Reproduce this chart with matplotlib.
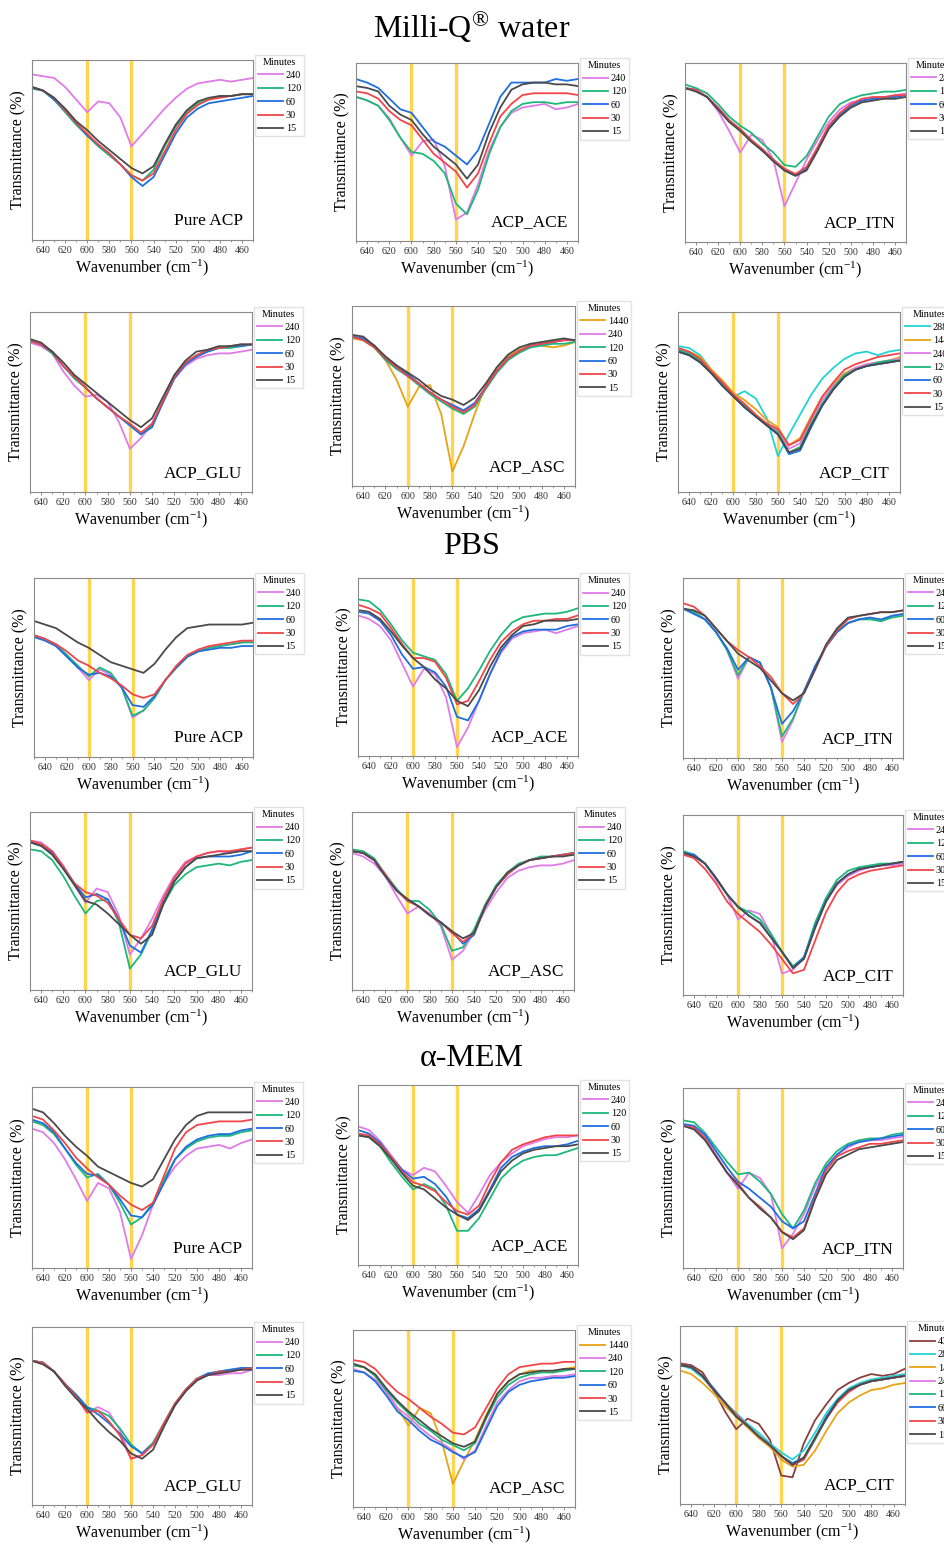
import matplotlib
matplotlib.use("Agg")
import matplotlib.pyplot as plt

plt.rcParams['font.family'] = ['Liberation Serif', 'DejaVu Serif']
plt.rcParams['mathtext.fontset'] = 'stix'

# wavenumber grid (cm-1) shared by all spectra
wavenumber = [650, 640, 630, 620, 610, 600, 590, 580, 570, 560, 550,
              540, 530, 520, 510, 500, 490, 480, 470, 460, 450]

# ---- Milli-Q water ----
mq_pure = {
    240: [92, 91, 90, 85, 78, 71, 77, 76, 68, 52, 59, 66, 73, 79, 84, 87, 88, 89, 88, 89, 90],
    120: [84, 83, 78, 71, 64, 58, 52, 47, 42, 36, 33, 39, 52, 63, 71, 76, 78, 80, 80, 81, 81],
    60: [85, 83, 78, 72, 65, 58, 53, 48, 42, 35, 30, 35, 47, 59, 68, 73, 76, 77, 78, 79, 80],
    30: [85, 83, 79, 72, 65, 59, 53, 48, 42, 36, 33, 37, 49, 61, 70, 75, 78, 79, 80, 81, 81],
    15: [85, 83, 79, 73, 66, 61, 55, 50, 45, 40, 37, 41, 53, 64, 72, 77, 79, 80, 80, 81, 81],
}
mq_ace = {
    240: [81, 79, 76, 69, 58, 48, 56, 57, 42, 12, 16, 32, 51, 64, 72, 75, 76, 77, 74, 75, 77],
    120: [81, 79, 76, 68, 58, 50, 49, 45, 38, 21, 15, 29, 49, 64, 73, 77, 78, 78, 77, 78, 78],
    60: [91, 89, 86, 80, 74, 72, 64, 56, 53, 48, 43, 51, 66, 81, 89, 89, 89, 89, 91, 90, 91],
    30: [84, 83, 80, 73, 68, 65, 57, 49, 44, 39, 30, 38, 55, 70, 77, 82, 83, 83, 83, 83, 82],
    15: [87, 86, 84, 76, 71, 68, 60, 53, 48, 43, 35, 43, 61, 75, 85, 88, 89, 89, 88, 88, 87],
}
mq_itn = {
    240: [86, 85, 81, 73, 62, 50, 60, 57, 46, 20, 33, 46, 57, 67, 74, 78, 79, 80, 80, 82, 83],
    120: [88, 86, 83, 77, 70, 65, 61, 55, 50, 43, 42, 48, 59, 70, 77, 80, 82, 83, 84, 84, 85],
    60: [86, 85, 81, 75, 68, 63, 57, 51, 46, 40, 37, 41, 52, 64, 71, 76, 79, 80, 81, 81, 82],
    30: [86, 85, 81, 75, 68, 63, 57, 52, 46, 41, 38, 42, 53, 65, 72, 77, 80, 81, 81, 82, 82],
    15: [86, 84, 81, 74, 67, 62, 56, 51, 45, 40, 37, 40, 51, 63, 70, 75, 78, 79, 80, 80, 81],
}
mq_glu = {
    240: [83, 81, 77, 67, 59, 53, 54, 50, 39, 24, 30, 38, 50, 63, 70, 74, 76, 77, 77, 78, 79],
    120: [84, 82, 77, 70, 63, 58, 52, 47, 42, 37, 32, 37, 51, 64, 71, 76, 78, 80, 80, 81, 82],
    60: [84, 82, 78, 70, 64, 58, 52, 47, 42, 37, 32, 36, 50, 63, 71, 75, 78, 80, 81, 81, 82],
    30: [84, 82, 78, 70, 64, 58, 52, 47, 42, 38, 33, 38, 51, 64, 72, 76, 79, 80, 81, 82, 82],
    15: [85, 83, 78, 72, 65, 60, 55, 50, 45, 40, 36, 41, 53, 65, 73, 78, 79, 81, 81, 82, 82],
}
mq_asc = {
    1440: [82, 81, 77, 70, 59, 44, 55, 56, 40, 8, 22, 40, 56, 66, 72, 76, 78, 78, 77, 78, 80],
    240: [83, 82, 78, 71, 66, 62, 57, 52, 48, 45, 42, 46, 55, 64, 70, 75, 77, 79, 80, 81, 81],
    120: [83, 81, 77, 70, 65, 61, 56, 51, 47, 43, 40, 44, 54, 63, 70, 74, 77, 78, 79, 79, 80],
    60: [83, 82, 78, 71, 66, 62, 57, 52, 48, 45, 42, 46, 55, 64, 71, 75, 78, 79, 80, 81, 81],
    30: [83, 81, 77, 71, 66, 61, 57, 52, 48, 44, 41, 45, 55, 64, 71, 75, 78, 79, 80, 81, 81],
    15: [84, 83, 78, 72, 67, 63, 59, 54, 50, 48, 45, 49, 57, 66, 73, 77, 79, 80, 81, 82, 81],
}
mq_cit = {
    2880: [81, 80, 76, 68, 60, 53, 56, 52, 41, 20, 32, 43, 54, 63, 69, 74, 77, 78, 76, 78, 79],
    1440: [80, 78, 75, 68, 62, 55, 51, 46, 40, 36, 26, 30, 42, 53, 60, 66, 69, 71, 72, 73, 75],
    240: [79, 77, 73, 66, 60, 54, 48, 42, 38, 34, 24, 27, 40, 51, 59, 65, 69, 71, 72, 73, 74],
    120: [79, 77, 73, 66, 60, 53, 48, 42, 37, 33, 22, 25, 38, 49, 58, 65, 68, 70, 72, 73, 73],
    60: [78, 76, 72, 66, 59, 53, 47, 42, 37, 32, 21, 23, 36, 48, 57, 64, 68, 70, 71, 72, 73],
    30: [80, 78, 74, 67, 61, 54, 49, 43, 38, 35, 26, 29, 41, 53, 61, 68, 71, 73, 75, 76, 77],
    15: [78, 76, 72, 66, 59, 53, 47, 42, 37, 32, 22, 24, 37, 48, 57, 64, 68, 70, 71, 72, 73],
}

# ---- PBS ----
pbs_pure = {
    240: [68, 66, 62, 57, 50, 43, 49, 46, 39, 22, 26, 33, 43, 50, 56, 60, 61, 62, 63, 64, 65],
    120: [68, 66, 63, 57, 51, 45, 50, 47, 39, 23, 26, 33, 43, 50, 56, 59, 61, 62, 63, 64, 64],
    60: [67, 65, 62, 56, 50, 46, 47, 45, 39, 29, 28, 34, 43, 50, 56, 59, 60, 61, 61, 62, 62],
    30: [68, 66, 63, 59, 54, 51, 47, 44, 40, 35, 33, 35, 43, 51, 57, 60, 62, 63, 64, 65, 65],
    15: [76, 74, 72, 68, 64, 61, 57, 53, 51, 49, 47, 52, 60, 67, 72, 73, 74, 74, 74, 74, 75],
}
pbs_ace = {
    240: [79, 77, 73, 65, 52, 39, 49, 46, 33, 5, 16, 31, 46, 58, 66, 69, 70, 71, 69, 71, 73],
    120: [88, 87, 82, 74, 65, 58, 56, 54, 46, 31, 38, 48, 59, 68, 75, 78, 79, 80, 80, 81, 83],
    60: [81, 80, 76, 68, 57, 49, 50, 47, 39, 22, 20, 31, 46, 59, 67, 70, 71, 71, 71, 73, 74],
    30: [85, 83, 80, 72, 63, 55, 55, 53, 44, 29, 31, 42, 54, 64, 70, 74, 76, 76, 77, 77, 79],
    15: [82, 81, 77, 70, 62, 55, 50, 43, 38, 31, 28, 37, 50, 61, 68, 73, 74, 76, 76, 76, 77],
}
pbs_itn = {
    240: [83, 81, 77, 70, 60, 44, 56, 53, 39, 9, 21, 37, 50, 62, 70, 75, 77, 78, 76, 79, 80],
    120: [83, 81, 77, 70, 60, 46, 56, 53, 39, 12, 22, 37, 50, 62, 70, 75, 77, 77, 76, 78, 79],
    60: [83, 80, 77, 70, 61, 49, 56, 53, 39, 19, 26, 37, 51, 62, 70, 75, 77, 78, 77, 79, 80],
    30: [86, 84, 79, 72, 65, 60, 56, 51, 45, 36, 30, 36, 49, 62, 71, 77, 79, 80, 81, 81, 82],
    15: [83, 82, 79, 72, 65, 58, 54, 50, 43, 36, 32, 36, 49, 63, 72, 78, 79, 80, 81, 81, 82],
}
pbs_glu = {
    240: [84, 83, 78, 70, 59, 49, 57, 55, 42, 20, 29, 40, 53, 64, 72, 75, 77, 78, 77, 79, 80],
    120: [79, 78, 73, 64, 53, 43, 50, 51, 38, 12, 20, 33, 48, 59, 65, 69, 70, 71, 70, 72, 73],
    60: [83, 81, 77, 69, 60, 52, 54, 51, 40, 25, 21, 34, 49, 61, 69, 74, 75, 75, 75, 76, 78],
    30: [84, 82, 78, 69, 60, 55, 53, 49, 40, 31, 29, 36, 51, 63, 71, 75, 77, 78, 78, 79, 80],
    15: [83, 81, 76, 68, 59, 50, 48, 43, 37, 31, 26, 31, 48, 61, 69, 74, 75, 76, 77, 78, 78],
}
pbs_asc = {
    240: [77, 75, 71, 64, 53, 43, 47, 43, 36, 17, 22, 33, 45, 55, 63, 67, 69, 70, 70, 71, 73],
    120: [79, 78, 74, 65, 57, 50, 50, 45, 37, 22, 24, 34, 48, 59, 66, 71, 73, 75, 75, 76, 77],
    60: [78, 77, 73, 64, 56, 51, 47, 42, 38, 33, 26, 31, 47, 58, 65, 70, 73, 74, 75, 76, 77],
    30: [78, 77, 73, 65, 56, 50, 47, 42, 38, 32, 27, 32, 47, 58, 65, 70, 73, 74, 75, 76, 77],
    15: [78, 77, 73, 64, 56, 51, 47, 42, 38, 33, 29, 32, 47, 58, 66, 70, 73, 74, 75, 75, 76],
}
pbs_cit = {
    240: [79, 77, 73, 64, 56, 42, 47, 45, 34, 12, 14, 21, 38, 52, 61, 66, 69, 71, 72, 72, 73],
    120: [80, 78, 73, 65, 56, 49, 46, 42, 34, 24, 16, 21, 40, 54, 64, 69, 71, 72, 73, 73, 74],
    60: [79, 78, 73, 65, 56, 49, 44, 40, 32, 24, 15, 21, 38, 52, 62, 67, 70, 71, 72, 73, 74],
    30: [78, 76, 70, 62, 52, 45, 40, 35, 28, 20, 12, 14, 30, 46, 57, 64, 67, 69, 70, 71, 72],
    15: [79, 77, 73, 65, 56, 49, 44, 40, 32, 24, 15, 20, 37, 52, 62, 67, 70, 71, 72, 73, 74],
}

# ---- alpha-MEM ----
mem_pure = {
    240: [77, 75, 69, 60, 49, 37, 47, 44, 31, 5, 18, 35, 47, 56, 62, 66, 67, 68, 66, 69, 71],
    120: [81, 79, 74, 66, 57, 50, 52, 46, 36, 24, 28, 36, 49, 60, 66, 70, 72, 73, 73, 75, 76],
    60: [82, 80, 75, 66, 58, 52, 51, 46, 38, 29, 28, 35, 47, 60, 67, 71, 73, 74, 74, 76, 77],
    30: [84, 82, 76, 69, 61, 55, 50, 46, 40, 35, 32, 36, 51, 66, 75, 79, 80, 81, 81, 81, 82],
    15: [88, 86, 80, 73, 67, 62, 56, 53, 50, 47, 45, 49, 60, 71, 79, 84, 86, 86, 86, 86, 86],
}
mem_ace = {
    240: [77, 75, 69, 61, 53, 50, 54, 52, 44, 35, 29, 39, 50, 57, 62, 66, 68, 70, 71, 71, 72],
    120: [72, 71, 66, 57, 49, 42, 45, 42, 33, 19, 19, 26, 37, 48, 54, 58, 60, 61, 61, 63, 65],
    60: [75, 73, 68, 60, 53, 48, 49, 45, 38, 28, 26, 31, 42, 54, 60, 63, 65, 66, 66, 67, 69],
    30: [73, 72, 67, 60, 52, 46, 44, 41, 35, 30, 28, 33, 46, 57, 64, 67, 69, 71, 72, 72, 72],
    15: [72, 71, 66, 59, 51, 44, 42, 37, 32, 28, 25, 30, 41, 52, 58, 62, 64, 65, 66, 66, 67],
}
mem_itn = {
    240: [79, 78, 73, 63, 53, 44, 53, 50, 41, 11, 19, 30, 45, 56, 63, 67, 70, 71, 71, 72, 73],
    120: [82, 81, 75, 67, 59, 52, 53, 48, 41, 30, 22, 32, 47, 58, 65, 69, 71, 72, 72, 74, 75],
    60: [80, 79, 74, 65, 56, 48, 44, 39, 34, 26, 22, 26, 41, 56, 63, 68, 70, 71, 72, 73, 74],
    30: [79, 78, 72, 62, 53, 47, 39, 34, 28, 20, 17, 22, 39, 54, 62, 65, 67, 69, 69, 70, 71],
    15: [79, 77, 71, 62, 53, 46, 39, 33, 28, 20, 16, 21, 38, 52, 60, 63, 66, 67, 68, 69, 70],
}
mem_glu = {
    240: [81, 80, 75, 68, 61, 52, 55, 52, 42, 26, 28, 34, 46, 57, 65, 70, 73, 73, 74, 74, 76],
    120: [81, 80, 75, 68, 62, 55, 53, 50, 43, 34, 29, 35, 46, 57, 65, 71, 73, 75, 76, 76, 77],
    60: [81, 80, 75, 68, 62, 55, 51, 46, 40, 33, 29, 34, 45, 56, 65, 71, 74, 75, 76, 77, 77],
    30: [81, 80, 75, 68, 61, 52, 53, 47, 39, 26, 28, 34, 46, 57, 65, 71, 73, 75, 75, 76, 77],
    15: [81, 79, 75, 67, 60, 54, 47, 41, 36, 29, 26, 31, 44, 56, 64, 70, 73, 74, 75, 76, 76],
}
mem_asc = {
    1440: [80, 79, 74, 65, 56, 46, 56, 53, 37, 13, 26, 38, 52, 64, 71, 75, 77, 77, 76, 78, 79],
    240: [78, 76, 72, 65, 56, 51, 45, 40, 36, 32, 27, 32, 46, 59, 66, 71, 73, 73, 74, 74, 75],
    120: [80, 79, 74, 66, 59, 53, 47, 43, 38, 35, 32, 36, 50, 62, 69, 73, 75, 76, 76, 77, 78],
    60: [77, 76, 71, 63, 54, 49, 43, 38, 35, 31, 28, 31, 44, 57, 65, 69, 71, 72, 73, 73, 74],
    30: [83, 82, 78, 71, 65, 61, 56, 51, 47, 42, 41, 45, 56, 67, 75, 79, 80, 81, 81, 82, 82],
    15: [81, 79, 75, 67, 60, 54, 49, 44, 40, 36, 34, 37, 51, 64, 71, 75, 76, 77, 77, 78, 78],
}
mem_cit = {
    4320: [79, 78, 74, 64, 52, 42, 48, 45, 36, 16, 15, 34, 47, 56, 64, 68, 71, 73, 72, 73, 76],
    2880: [78, 76, 71, 64, 57, 51, 45, 40, 34, 29, 25, 30, 40, 51, 59, 65, 68, 70, 71, 72, 73],
    1440: [75, 73, 68, 62, 55, 49, 43, 37, 32, 25, 21, 22, 30, 41, 51, 57, 61, 64, 65, 67, 68],
    240: [78, 77, 72, 64, 57, 50, 44, 38, 33, 27, 22, 25, 37, 48, 57, 63, 67, 69, 70, 71, 72],
    120: [78, 77, 72, 64, 57, 49, 44, 38, 33, 27, 22, 25, 36, 48, 58, 64, 67, 69, 70, 71, 72],
    60: [78, 77, 72, 65, 57, 50, 44, 38, 33, 27, 23, 26, 37, 49, 58, 64, 67, 69, 70, 71, 72],
    30: [78, 77, 72, 64, 57, 50, 44, 38, 33, 27, 22, 25, 37, 48, 57, 63, 67, 69, 70, 71, 72],
    15: [78, 77, 72, 64, 57, 49, 44, 38, 33, 27, 22, 26, 37, 48, 58, 64, 67, 69, 70, 71, 72],
}

colors = {4320: '#8B3F3F', 2880: '#22D3D3', 1440: '#E8A317', 240: '#E07BE8',
          120: '#1DB87A', 60: '#1E6FE0', 30: '#F0464A', 15: '#4A4A4A'}
gold = '#FFD54F'

W, H = 944, 1544
fig = plt.figure(figsize=(W / 100, H / 100), dpi=100)


def add_panel(box, data, label):
    l, t, r, b = box
    ax = fig.add_axes([l / W, 1 - b / H, (r - l) / W, (b - t) / H])
    for x0 in (600, 560):
        ax.axvline(x0, color=gold, lw=2.4, zorder=1)
    for m, vals in data.items():
        ax.plot(wavenumber, vals, color=colors[m], lw=1.3, label=str(m), zorder=2)
    ax.set_xlim(650, 450)
    ax.set_ylim(0, 100)
    ax.set_yticks([])
    ax.set_xticks(range(640, 450, -20))
    ax.set_xticks(range(650, 449, -10), minor=True)
    ax.tick_params(axis='x', which='major', labelsize=7.2, length=2.5, width=0.6,
                   pad=2, color='#777777', labelcolor='#333333')
    ax.tick_params(axis='x', which='minor', length=1.5, width=0.5, color='#777777')
    for s in ax.spines.values():
        s.set_color('#8a8a8a')
        s.set_linewidth(0.8)
    ax.set_xlabel('Wavenumber (cm$^{\\mathregular{-1}}$)', fontsize=11.5, labelpad=1.5)
    ax.set_ylabel('Transmittance (%)', fontsize=11.5, labelpad=4)
    ax.text(0.955, 0.06, label, transform=ax.transAxes, ha='right', va='bottom',
            fontsize=12.5)
    ax.legend(title='Minutes', loc='upper left', bbox_to_anchor=(1.01, 1.03),
              fontsize=7.3, title_fontsize=7.3, frameon=True, fancybox=False,
              edgecolor='#dddddd', handlelength=2.4, handletextpad=0.3,
              labelspacing=0.42, borderpad=0.3, borderaxespad=0)
    return ax


panels = [
    ((32, 60, 253, 240), mq_pure, 'Pure ACP'),
    ((356, 63, 578, 241), mq_ace, 'ACP_ACE'),
    ((685, 63, 906, 242), mq_itn, 'ACP_ITN'),
    ((30, 312, 252, 492), mq_glu, 'ACP_GLU'),
    ((352, 306, 575, 486), mq_asc, 'ACP_ASC'),
    ((678, 312, 900, 492), mq_cit, 'ACP_CIT'),
    ((34, 578, 253, 757), pbs_pure, 'Pure ACP'),
    ((358, 578, 578, 756), pbs_ace, 'ACP_ACE'),
    ((683, 578, 903, 758), pbs_itn, 'ACP_ITN'),
    ((30, 812, 252, 990), pbs_glu, 'ACP_GLU'),
    ((352, 812, 574, 990), pbs_asc, 'ACP_ASC'),
    ((683, 815, 903, 995), pbs_cit, 'ACP_CIT'),
    ((32, 1087, 252, 1268), mem_pure, 'Pure ACP'),
    ((358, 1085, 578, 1265), mem_ace, 'ACP_ACE'),
    ((683, 1088, 903, 1268), mem_itn, 'ACP_ITN'),
    ((32, 1327, 252, 1505), mem_glu, 'ACP_GLU'),
    ((353, 1330, 575, 1507), mem_asc, 'ACP_ASC'),
    ((680, 1326, 905, 1504), mem_cit, 'ACP_CIT'),
]

for box, data, label in panels:
    add_panel(box, data, label)

fig.text(0.5, 1 - 27 / H, 'Milli-Q$^{\\mathregular{®}}$ water', ha='center', va='center',
         fontsize=23)
fig.text(0.5, 1 - 547 / H, 'PBS', ha='center', va='center', fontsize=23)
fig.text(0.5, 1 - 1058 / H, 'α-MEM', ha='center', va='center', fontsize=23)

fig.savefig('out.png', dpi=100)
